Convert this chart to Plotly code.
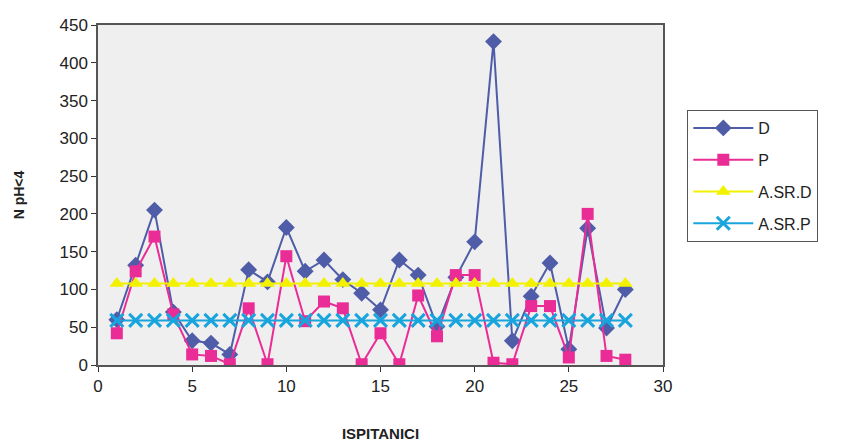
import plotly.graph_objects as go

x_vals = list(range(1, 29))
d_vals = [60, 132, 205, 70, 32, 29, 14, 126, 110, 182, 124, 139, 113, 95, 73,
          139, 119, 51, 116, 163, 428, 32, 91, 135, 21, 181, 49, 100]
p_vals = [42, 124, 170, 67, 14, 12, 1, 75, 1, 144, 58, 84, 75, 1, 42,
          1, 92, 38, 119, 119, 3, 1, 78, 78, 10, 200, 12, 7]
asrd_vals = [108] * 28
asrp_vals = [59] * 28

x_ticks = [0, 5, 10, 15, 20, 25, 30]
y_ticks = [0, 50, 100, 150, 200, 250, 300, 350, 400, 450]

fig = go.Figure()
fig.add_trace(go.Scatter(x=x_vals, y=d_vals, name="D", mode="lines+markers",
                         line=dict(color="#4f5ca8", width=2),
                         marker=dict(symbol="diamond", size=13, color="#4f5ca8"),
                         legendgroup="a"))
fig.add_trace(go.Scatter(x=x_vals, y=p_vals, name="P", mode="lines+markers",
                         line=dict(color="#ea2c96", width=2),
                         marker=dict(symbol="square", size=12, color="#ea2c96"),
                         legendgroup="b"))
fig.add_trace(go.Scatter(x=x_vals, y=asrd_vals, name="A.SR.D", mode="lines+markers",
                         line=dict(color="#f2f200", width=2),
                         marker=dict(symbol="triangle-up", size=13, color="#f2f200"),
                         legendgroup="c"))
fig.add_trace(go.Scatter(x=x_vals, y=asrp_vals, name="A.SR.P", mode="lines+markers",
                         line=dict(color="#18a4dc", width=2),
                         marker=dict(symbol="x-thin", size=13, color="#18a4dc",
                                     line=dict(color="#18a4dc", width=3)),
                         legendgroup="d"))

axis_common = dict(showgrid=False, zeroline=False, showline=True, mirror=True,
                   linecolor="#555555", linewidth=1.5, ticks="outside", ticklen=5,
                   tickcolor="#333333", tickfont=dict(size=17, color="#222222"),
                   automargin=False)

fig.update_layout(
    width=839, height=434,
    margin=dict(l=90, r=184, t=17, b=77),
    paper_bgcolor="white",
    plot_bgcolor="#efefef",
    font=dict(family="Liberation Sans, Arial, sans-serif", color="#222222"),
    xaxis=dict(range=[0, 30], tickvals=x_ticks,
               title=dict(text="<b>ISPITANICI</b>", font=dict(size=15), standoff=34),
               **axis_common),
    yaxis=dict(range=[0, 450], tickvals=y_ticks,
               title=dict(text="<b>N pH<4</b>", font=dict(size=14), standoff=32),
               **axis_common),
    legend=dict(x=1.043, y=0.75, xanchor="left", yanchor="top",
                bordercolor="#555555", borderwidth=1, bgcolor="white",
                font=dict(size=16, color="#222222"), itemwidth=60,
                tracegroupgap=8),
    showlegend=True,
)

fig.write_html("out.html")
